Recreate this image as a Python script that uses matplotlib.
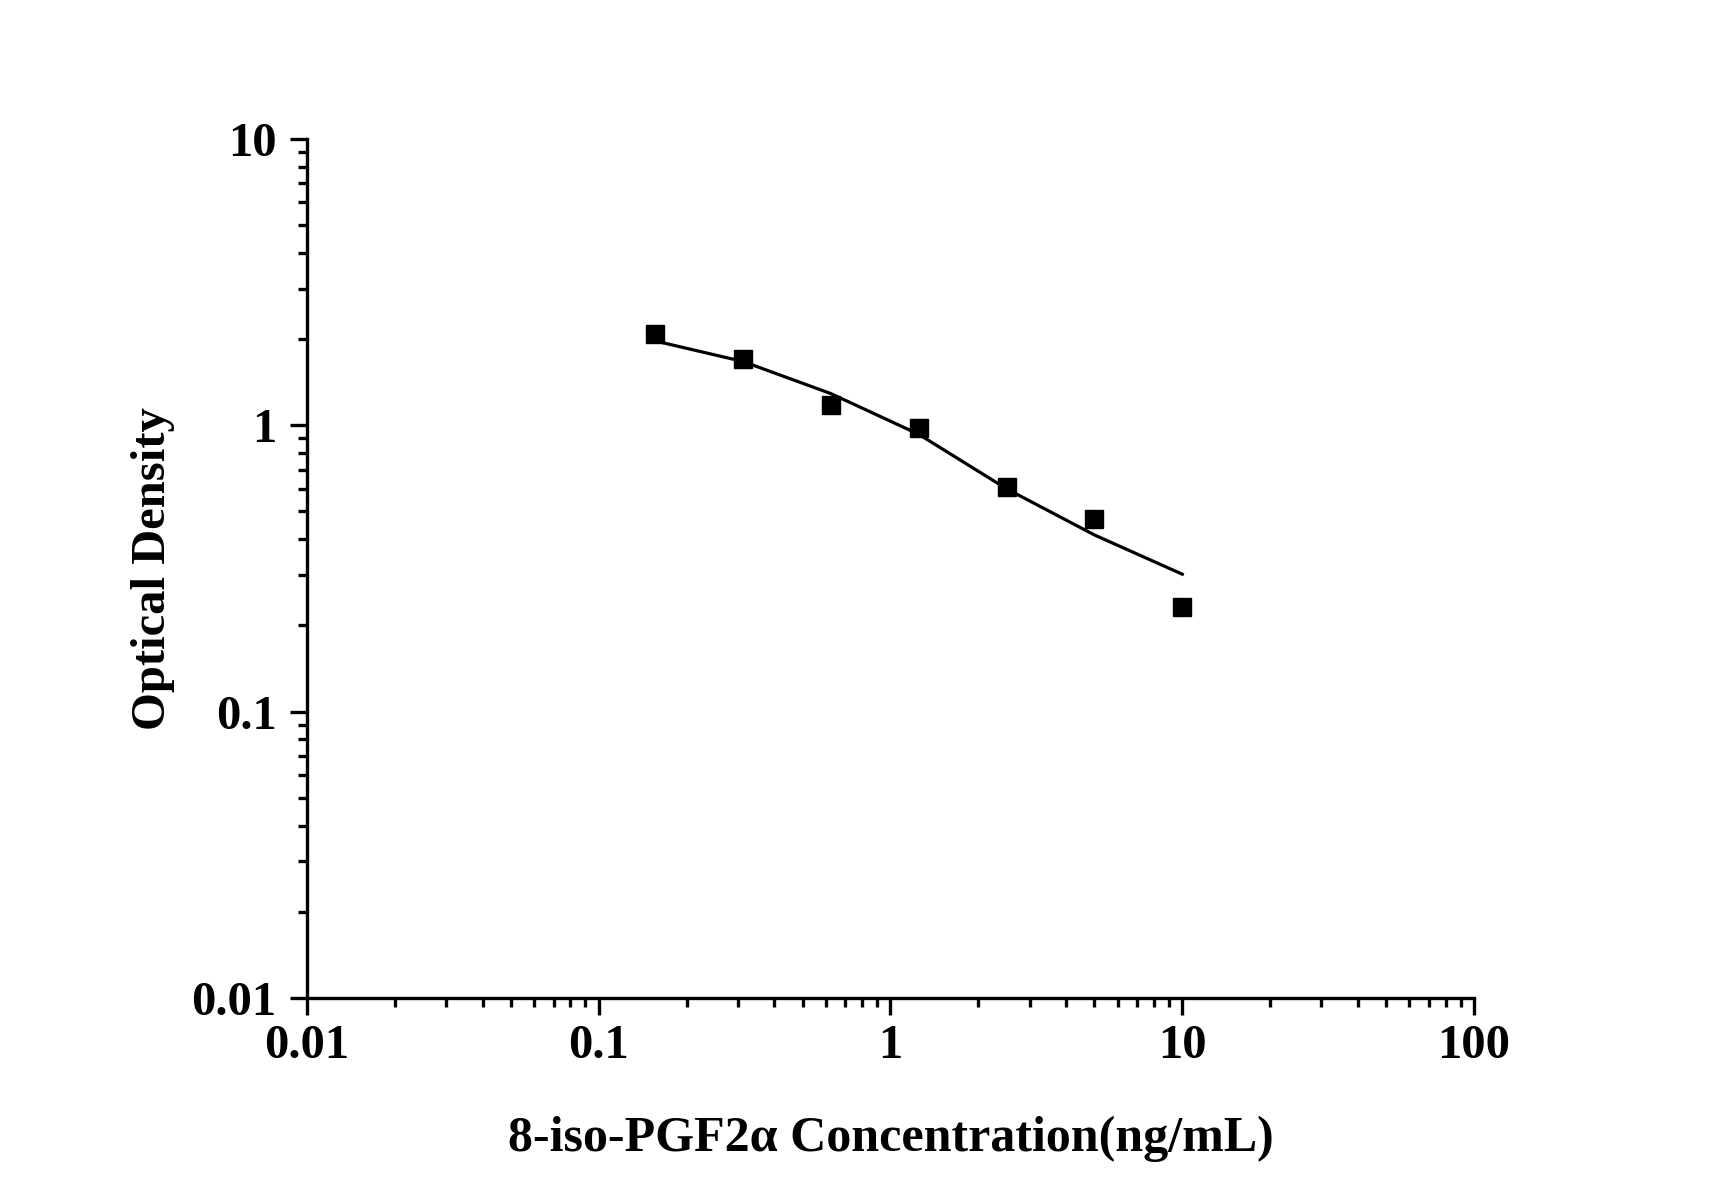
import matplotlib
matplotlib.use("Agg")
import matplotlib.pyplot as plt
from matplotlib.ticker import LogLocator, FuncFormatter, NullFormatter

# standard concentrations (ng/mL) and measured OD
conc = [0.15625, 0.3125, 0.625, 1.25, 2.5, 5, 10]
od = [2.08, 1.70, 1.18, 0.98, 0.608, 0.472, 0.232]
# fitted curve values at the same concentrations
od_fit = [1.97, 1.67, 1.29, 0.93, 0.60, 0.414, 0.302]

plt.rcParams['font.family'] = ['Liberation Serif', 'DejaVu Serif']
plt.rcParams['font.weight'] = 'bold'

fig = plt.figure(figsize=(17.12, 11.96), dpi=100)
ax = fig.add_axes([0.1793, 0.1656, 0.6817, 0.7182])

ax.plot(conc, od_fit, color='black', lw=2.3, zorder=2)
ax.plot(conc, od, 's', color='black', ms=13.5, zorder=3)

ax.set_xscale('log')
ax.set_yscale('log')
ax.set_xlim(0.01, 100)
ax.set_ylim(0.01, 10)

for s in ['top', 'right']:
    ax.spines[s].set_visible(False)
for s in ['left', 'bottom']:
    ax.spines[s].set_linewidth(2.4)

fmt = FuncFormatter(lambda v, p: '%g' % v)
for a in [ax.xaxis, ax.yaxis]:
    a.set_major_locator(LogLocator(base=10, numticks=10))
    a.set_minor_locator(LogLocator(base=10, subs=range(2, 10), numticks=10))
    a.set_major_formatter(fmt)
    a.set_minor_formatter(NullFormatter())

ax.tick_params(which='major', direction='out', length=12, width=2.4, labelsize=35)
ax.tick_params(which='minor', direction='out', length=6.5, width=2.4)
ax.tick_params(axis='y', which='major', pad=10)
ax.tick_params(axis='x', which='major', pad=7)

ax.set_xlabel('8-iso-PGF2α Concentration(ng/mL)', fontsize=36, fontweight='bold', labelpad=34)
ax.set_ylabel('Optical Density', fontsize=35, fontweight='bold', labelpad=12)

fig.savefig('out.png', dpi=100)
